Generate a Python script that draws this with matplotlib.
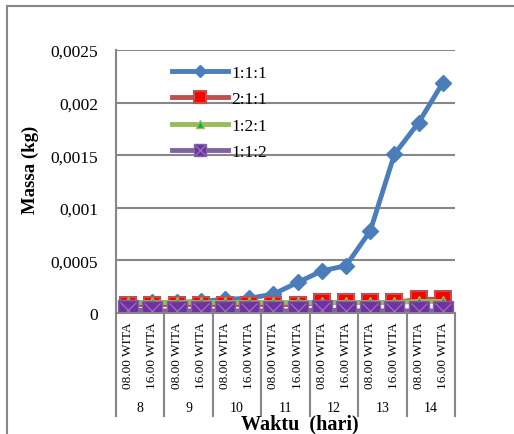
import matplotlib.pyplot as plt
from matplotlib.lines import Line2D
from matplotlib.patches import Rectangle

plt.rcParams['font.family'] = ['Liberation Serif', 'DejaVu Serif']

jam = ['08.00 WITA', '16.00 WITA'] * 7
hari = ['8', '9', '10', '11', '12', '13', '14']
yticks = [0, 0.0005, 0.001, 0.0015, 0.002, 0.0025]
ylabels = ['0', '0,0005', '0,001', '0,0015', '0,002', '0,0025']

s111 = [0.00009, 0.0001, 0.0001, 0.00011, 0.00013, 0.00014, 0.00018,
        0.00029, 0.0004, 0.00045, 0.00078, 0.00151, 0.00181, 0.00219]
s211 = [0.00008, 0.00008, 0.00008, 0.00008, 0.00008, 0.00008, 0.00008,
        0.00008, 0.0001, 0.0001, 0.0001, 0.0001, 0.00013, 0.00013]
s121 = [0.0001, 0.0001, 0.0001, 0.0001, 0.0001, 0.0001, 0.0001,
        0.0001, 0.0001, 0.0001, 0.0001, 0.0001, 0.00011, 0.00011]
s112 = [0.00003, 0.00002, 0.00002, 0.00002, 0.00002, 0.00002, 0.00002,
        0.00002, 0.00003, 0.00002, 0.00002, 0.00002, 0.00002, 0.00002]

gray = '#878787'
fig = plt.figure(figsize=(5.14, 4.35), dpi=100)
ax = fig.add_axes([116/514, 1-314/435, (455-116)/514, (314-51)/435])
x = list(range(len(jam)))

ax.plot(x, s111, color='#4A7EBB', lw=3.5, marker='D', ms=8.5,
        mfc='#4A7EBB', mec='#4A7EBB', solid_capstyle='round')
ax.plot(x, s211, color='#C0504D', lw=3.5, marker='s', ms=12,
        mfc='#FF0000', mec='#C0504D', mew=1.5)
ax.plot(x, s121, color='#9BBB59', lw=3.5, marker='^', ms=7,
        mfc='#00B050', mec='#9BBB59', mew=1)
ax.plot(x, s112, color='#8064A2', lw=3.5, marker='s', ms=14.5,
        mfc='#7030A0', mec='#8064A2', mew=1)
ax.plot(x, s112, ls='none', marker='x', ms=12, mec='#8E70B8', mew=1)

ax.set_xlim(-0.5, 13.5)
ax.set_ylim(0, 0.0025)
ax.set_yticks(yticks)
ax.set_yticklabels(ylabels, fontsize=12.5)
ax.tick_params(axis='y', length=0, pad=13)
ax.set_xticks([])
ax.grid(axis='y', color=gray, lw=1.5)
ax.set_axisbelow(True)
for s in ['top', 'right']:
    ax.spines[s].set_visible(False)
for s in ['left', 'bottom']:
    ax.spines[s].set_color(gray)
    ax.spines[s].set_linewidth(1.5)

tr = ax.get_xaxis_transform()
for i, lab in enumerate(jam):
    ax.text(i, -0.16, lab, rotation=90, ha='center', va='center',
            fontsize=9.5, transform=tr)
for k, h in enumerate(hari):
    ax.text(2*k + 0.5, -0.36, h, ha='center', va='center',
            fontsize=10, transform=tr)
for k in range(len(hari) + 1):
    ax.plot([2*k - 0.5, 2*k - 0.5], [0, -0.392], color=gray, lw=1.5,
            transform=tr, clip_on=False)

handles = [
    Line2D([], [], color='#4A7EBB', lw=3.5, marker='D', ms=6, mfc='#4A7EBB', mec='#4A7EBB'),
    Line2D([], [], color='#C0504D', lw=3.5, marker='s', ms=8, mfc='#FF0000', mec='#C0504D', mew=1.5),
    Line2D([], [], color='#9BBB59', lw=3.5, marker='^', ms=6, mfc='#00B050', mec='#9BBB59'),
    (Line2D([], [], color='#8064A2', lw=3.5, marker='s', ms=9, mfc='#7030A0', mec='#8064A2'),
     Line2D([], [], ls='none', marker='x', ms=7, mec='#8E70B8', mew=1)),
]
fig.legend(handles, ['1:1:1', '2:1:1', '1:2:1', '1:1:2'], loc='upper left',
           bbox_to_anchor=(172/514, 1-66/435), frameon=False, fontsize=12.5,
           handlelength=3.2, handletextpad=0.2, labelspacing=0.58,
           borderpad=0, borderaxespad=0)

fig.text(30/514, 1-170/435, 'Massa (kg)', rotation=90, ha='center', va='center',
         fontsize=13.5, fontweight='bold')
fig.text(300/514, 1-424/435, 'Waktu  (hari)', ha='center', va='center',
         fontsize=14.5, fontweight='bold')

fig.patches.append(Rectangle((7/514, -0.2), 1.2, 1.2 - 7/435, transform=fig.transFigure,
                             fill=False, edgecolor=gray, lw=1.5))

fig.savefig('out.png', dpi=100)
